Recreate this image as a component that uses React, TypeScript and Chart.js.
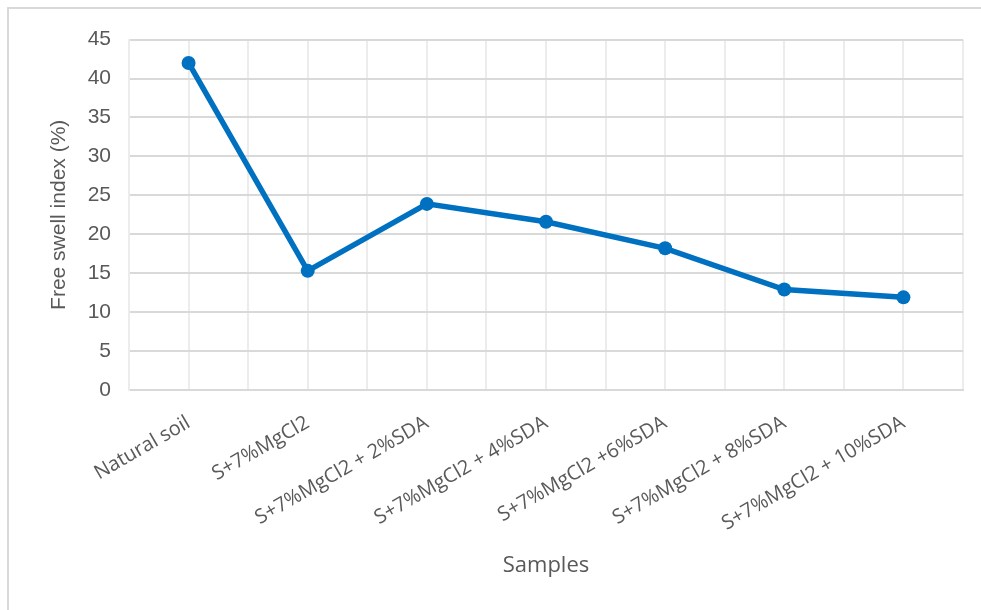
import React, { useEffect, useRef } from 'react';
import { Chart, registerables } from 'chart.js';

Chart.register(...registerables);

// Sample names along the horizontal axis
const samples = [
  'Natural soil',
  'S+7%MgCl2',
  'S+7%MgCl2 + 2%SDA',
  'S+7%MgCl2 + 4%SDA',
  'S+7%MgCl2 +6%SDA',
  'S+7%MgCl2 + 8%SDA',
  'S+7%MgCl2 + 10%SDA',
];

// Free swell index (%) for each sample
const freeSwellIndex = [42, 15.3, 23.9, 21.6, 18.2, 12.9, 11.9];

// Value axis range
const yMin = 0;
const yMax = 45;
const yStep = 5;

const TEXT = '#595959';
const LINE = '#0070C0';
const SANS = '"Liberation Sans", Arial, sans-serif';
const LABEL_FONT = '"Open Sans", "Noto Sans", sans-serif';

export default function App() {
  const canvasRef = useRef<HTMLCanvasElement | null>(null);

  useEffect(() => {
    const canvas = canvasRef.current;
    if (!canvas) return;

    const points = freeSwellIndex.map((v, i) => ({ x: i, y: v }));

    const chart = new Chart(canvas, {
      type: 'line',
      data: {
        datasets: [
          {
            label: 'Free swell index (%)',
            data: points,
            borderColor: LINE,
            backgroundColor: LINE,
            borderWidth: 5.5,
            pointRadius: 7,
            pointBorderWidth: 0,
            pointBackgroundColor: LINE,
            tension: 0,
          },
        ],
      },
      options: {
        animation: false,
        responsive: true,
        maintainAspectRatio: false,
        layout: { padding: { left: 34, top: 29, right: 18, bottom: 27 } },
        plugins: {
          legend: { display: false },
          tooltip: { enabled: false },
        },
        scales: {
          x: {
            type: 'linear',
            min: -0.5,
            max: samples.length - 0.5,
            afterFit: (scale: any) => {
              // fixed axis band; rotated labels may overflow sideways
              scale.height = 193;
              scale.paddingLeft = 0;
              scale.paddingRight = 0;
            },
            ticks: {
              stepSize: 0.5,
              autoSkip: false,
              minRotation: 30,
              maxRotation: 30,
              padding: 21,
              color: TEXT,
              font: { family: LABEL_FONT, size: 20 },
              callback: (value: any) => {
                const n = Number(value);
                return Number.isInteger(n) && samples[n] !== undefined ? samples[n] : '';
              },
            },
            grid: {
              color: '#ececec',
              lineWidth: 2,
              drawTicks: false,
            },
            border: { display: true, color: '#d9d9d9', width: 2 },
            title: {
              display: true,
              text: 'Samples',
              color: TEXT,
              font: { family: LABEL_FONT, size: 22 },
              padding: { top: 4, bottom: 4 },
            },
          },
          y: {
            min: yMin,
            max: yMax,
            afterFit: (scale: any) => {
              scale.width = 86;
            },
            ticks: {
              stepSize: yStep,
              padding: 18,
              color: TEXT,
              font: { family: SANS, size: 21 },
            },
            grid: {
              color: '#d9d9d9',
              lineWidth: 2,
              drawTicks: false,
            },
            border: { display: true, color: '#ececec', width: 2 },
            title: {
              display: true,
              text: 'Free swell index (%)',
              color: TEXT,
              font: { family: SANS, size: 21 },
              padding: { top: 4, bottom: 4 },
            },
          },
        },
      },
    });

    return () => chart.destroy();
  }, []);

  return (
    <div
      style={{
        position: 'absolute',
        left: 7,
        top: 7,
        width: 972,
        height: 601,
        borderTop: '2px solid #d9d9d9',
        borderLeft: '2px solid #d9d9d9',
        background: '#ffffff',
      }}
    >
      <canvas ref={canvasRef} style={{ width: '100%', height: '100%' }} />
    </div>
  );
}
